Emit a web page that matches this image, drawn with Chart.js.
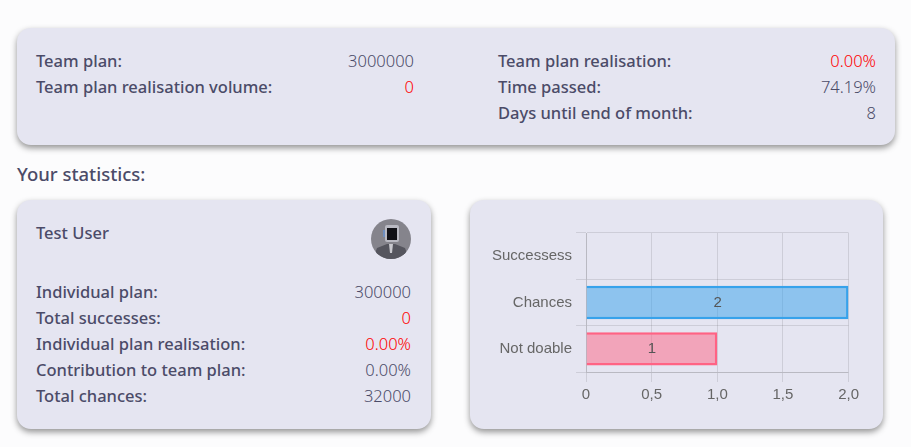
<!DOCTYPE html>
<html>
<head>
<meta charset="utf-8">
<title>Statistics</title>
<script src="https://cdn.jsdelivr.net/npm/chart.js@4/dist/chart.umd.min.js"></script>
<style>
  html, body { margin: 0; height: 100%; overflow: hidden; background: #fcfcfd; }
  body { position: relative; width: 911px; height: 447px; font-family: "Noto Sans", sans-serif; font-size: 16.5px; color: #4b4b68; }
  .card { position: absolute; background: #e5e5f1; border-radius: 14px; box-shadow: 0 3px 6px rgba(0, 0, 0, 0.42); }
  .row { position: absolute; display: flex; justify-content: space-between; height: 26px; line-height: 26px; }
  .row b { font-weight: 500; }
  .row span { font-weight: 300; }
  .row .zero { color: #ff0000; }
  .heading { position: absolute; left: 17px; top: 161px; font-size: 18.5px; font-weight: 500; line-height: 26px; }
  .avatar { position: absolute; left: 371px; top: 219px; width: 40px; height: 40px; }
  #chart-box { position: absolute; left: 488px; top: 220px; width: 375px; height: 188px; }
</style>
</head>
<body>
  <div class="card" style="left:17px;top:28px;width:878px;height:117px"></div>
  <div class="heading">Your statistics:</div>
  <div class="card" style="left:17px;top:200px;width:413.5px;height:228.5px"></div>
  <div class="card" style="left:469.5px;top:200px;width:413px;height:228.5px"></div>
  <div class="row" style="left:36px;top:220px;width:300px"><b>Test User</b></div>
  <svg class="avatar" viewBox="0 0 40 40">
    <defs><clipPath id="round"><circle cx="20" cy="20" r="20"/></clipPath></defs>
    <g clip-path="url(#round)">
      <rect width="40" height="40" fill="#85848c"/>
      <path d="M2 40 L6 29 L16 25 L24 25 L34 29 L38 40 Z" fill="#55555e"/>
      <path d="M18 25 L22 25 L21 34 L19 34 Z" fill="#c9c9cf"/>
      <rect x="14" y="6" width="14" height="17" rx="2" fill="#b9b9c2"/>
      <rect x="16" y="9" width="10" height="12" fill="#101015"/>
      <rect x="12" y="11" width="2" height="7" fill="#6f8fc0"/>
    </g>
  </svg>
  <div id="chart-box"><canvas id="result-chart"></canvas></div>

<script>
const CHART_LABELS = ['Successess', 'Chances', 'Not doable'];
const CHART_VALUES = [0, 2, 1];
const BAR_FILLS = ['rgba(255, 206, 86, 0.5)', 'rgba(54, 162, 235, 0.5)', 'rgba(255, 99, 132, 0.5)'];
const BAR_BORDERS = ['rgb(255, 206, 86)', 'rgb(54, 162, 235)', 'rgb(255, 99, 132)'];

const TEAM_LEFT_LABELS = ['Team plan:', 'Team plan realisation volume:'];
const TEAM_LEFT_VALUES = ['3000000', '0'];
const TEAM_RIGHT_LABELS = ['Team plan realisation:', 'Time passed:', 'Days until end of month:'];
const TEAM_RIGHT_VALUES = ['0.00%', '74.19%', '8'];
const USER_LABELS = ['Individual plan:', 'Total successes:', 'Individual plan realisation:', 'Contribution to team plan:', 'Total chances:'];
const USER_VALUES = ['300000', '0', '0.00%', '0.00%', '32000'];

const CHART_FONT = { family: '"Liberation Sans", Arial, sans-serif', size: 15 };

function addRows(labels, values, left, top, width) {
  labels.forEach((label, i) => {
    const row = document.createElement('div');
    row.className = 'row';
    row.style.cssText = `left:${left}px;top:${top + i * 26}px;width:${width}px`;
    const name = document.createElement('b');
    name.textContent = label;
    const value = document.createElement('span');
    value.textContent = values[i];
    if (values[i] === '0' || (values[i] === '0.00%' && label !== 'Contribution to team plan:')) {
      value.className = 'zero';
    }
    row.append(name, value);
    document.body.append(row);
  });
}

// value printed in the middle of each bar
const barValueLabels = {
  id: 'barValueLabels',
  afterDatasetsDraw(chart) {
    const { ctx } = chart;
    chart.getDatasetMeta(0).data.forEach((bar, i) => {
      if (!CHART_VALUES[i]) return;
      const center = bar.getCenterPoint();
      ctx.save();
      ctx.fillStyle = '#555';
      ctx.font = `${CHART_FONT.size}px ${CHART_FONT.family}`;
      ctx.textAlign = 'center';
      ctx.textBaseline = 'middle';
      ctx.fillText(String(CHART_VALUES[i]), center.x, center.y);
      ctx.restore();
    });
  },
};

function renderChart() {
  new Chart(document.getElementById('result-chart'), {
    type: 'bar',
    data: {
      labels: CHART_LABELS,
      datasets: [{
        data: CHART_VALUES,
        backgroundColor: BAR_FILLS,
        borderColor: BAR_BORDERS,
        borderWidth: 2.5,
      }],
    },
    plugins: [barValueLabels],
    options: {
      indexAxis: 'y',
      animation: false,
      responsive: true,
      maintainAspectRatio: false,
      plugins: {
        legend: { display: false },
        tooltip: { enabled: false },
      },
      scales: {
        x: {
          min: 0,
          max: 2,
          grid: { tickLength: 10 },
          ticks: {
            stepSize: 0.5,
            padding: 4,
            color: '#666',
            font: CHART_FONT,
            callback: (value) => (value === 0 ? '0' : value.toFixed(1).replace('.', ',')),
          },
        },
        y: {
          grid: { tickLength: 10 },
          ticks: {
            padding: 4,
            color: '#666',
            font: CHART_FONT,
          },
        },
      },
    },
  });
}

addRows(TEAM_LEFT_LABELS, TEAM_LEFT_VALUES, 36, 48, 378);
addRows(TEAM_RIGHT_LABELS, TEAM_RIGHT_VALUES, 498, 48, 378);
addRows(USER_LABELS, USER_VALUES, 36, 279, 375);
renderChart();
</script>
</body>
</html>
